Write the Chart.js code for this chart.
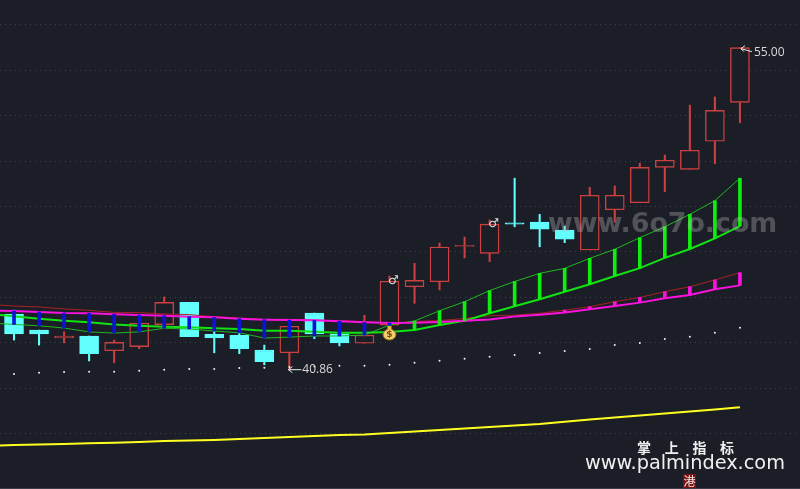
<!DOCTYPE html>
<html>
<head>
<meta charset="utf-8">
<style>
  html, body { margin: 0; padding: 0; background: #1b1e27; overflow: hidden; }
  canvas { display: block; }
</style>
<script src="https://cdn.jsdelivr.net/npm/chart.js@4/dist/chart.umd.min.js"></script>
</head>
<body>
<canvas id="kline" width="800" height="489"></canvas>
<script>
// Candles
const opens = [43.27, 42.56, 42.21, 42.30, 41.65, 41.83, 42.80, 43.78, 42.37, 42.33, 41.68, 41.56, 43.31, 42.39, 41.98, 42.78, 44.47, 44.69, 46.24, 45.94, 47.28, 47.32, 46.97, 46.09, 47.86, 48.17, 49.73, 49.64, 50.88, 52.59];
const closes = [42.39, 42.39, 42.30, 41.52, 42.02, 42.86, 43.78, 42.27, 42.21, 41.74, 41.17, 42.73, 42.39, 42.00, 42.34, 44.71, 44.75, 46.22, 46.29, 47.23, 47.23, 47.01, 46.57, 48.50, 48.50, 49.73, 50.04, 50.48, 52.24, 55.00];
const highs = [43.44, 42.56, 42.48, 42.30, 42.12, 42.86, 44.02, 43.78, 42.53, 42.43, 41.90, 42.73, 43.31, 42.39, 43.21, 44.94, 45.50, 46.40, 46.66, 47.41, 49.25, 47.66, 47.14, 48.85, 48.91, 49.91, 50.27, 52.47, 52.83, 55.00];
const lows = [42.12, 41.90, 42.00, 41.20, 41.12, 41.74, 42.62, 42.27, 41.56, 41.52, 41.03, 40.86, 42.18, 41.86, 41.98, 42.78, 43.74, 44.33, 45.74, 45.57, 47.11, 46.23, 46.41, 46.09, 47.32, 48.17, 48.66, 49.64, 49.89, 51.69];

// Indicator lines, first value is the day before the first candle
const thinRed = [43.69, 43.62, 43.58, 43.49, 43.43, 43.34, 43.33, 43.27, 43.24, 43.15, 43.09, 43.03, 43.03, 43.00, 42.97, 42.93, 42.87, 42.94, 42.98, 43.07, 43.19, 43.22, 43.30, 43.44, 43.59, 43.81, 44.00, 44.25, 44.47, 44.77, 45.09];
const magenta = [43.42, 43.40, 43.36, 43.31, 43.30, 43.26, 43.22, 43.19, 43.15, 43.12, 43.06, 43.02, 43.00, 42.99, 42.95, 42.90, 42.87, 42.88, 42.92, 42.97, 43.03, 43.16, 43.24, 43.33, 43.48, 43.62, 43.77, 43.96, 44.11, 44.36, 44.53];
const thickGreen = [43.26, 43.17, 43.06, 42.97, 42.90, 42.81, 42.75, 42.71, 42.68, 42.64, 42.61, 42.53, 42.53, 42.49, 42.44, 42.44, 42.48, 42.56, 42.78, 42.97, 43.30, 43.61, 43.92, 44.25, 44.58, 44.94, 45.29, 45.74, 46.13, 46.60, 47.14];
const thinGreen = [42.87, 42.81, 42.75, 42.65, 42.48, 42.43, 42.48, 42.64, 42.61, 42.52, 42.44, 42.21, 42.25, 42.30, 42.30, 42.34, 42.78, 42.96, 43.41, 43.81, 44.30, 44.70, 45.06, 45.28, 45.72, 46.12, 46.63, 47.11, 47.66, 48.26, 49.25];
const yellow = [37.45, 37.50, 37.52, 37.54, 37.57, 37.60, 37.63, 37.67, 37.70, 37.72, 37.76, 37.81, 37.85, 37.89, 37.94, 37.96, 38.03, 38.09, 38.16, 38.22, 38.29, 38.36, 38.42, 38.52, 38.62, 38.71, 38.80, 38.89, 38.97, 39.06, 39.16];
const dots = [40.63, 40.68, 40.71, 40.73, 40.73, 40.77, 40.81, 40.85, 40.85, 40.89, 40.90, 40.93, 40.96, 40.99, 40.99, 41.03, 41.12, 41.21, 41.30, 41.39, 41.46, 41.55, 41.64, 41.73, 41.90, 41.99, 42.17, 42.27, 42.44, 42.66];

// Grid prices
const gridPrices = [56, 54, 52, 50, 48, 46, 44, 42, 40, 38];

const BG = '#1b1e27';
const RED = '#cc4040';
const CYAN = '#62ffff';

// Turn the arrays into {x, y} points
const candlePoints = (a, b) => opens.map((_, i) => ({ x: i, y: [a[i], b[i]] }));
const linePoints = arr => arr.map((v, i) => ({ x: i - 1, y: v }));
const isUp = i => closes[i] >= opens[i];

// Indicator bars between two lines, from candle "from" up to candle "to"
function spanBars(a, b, from, to) {
  const out = [];
  for (let i = from; i <= to; i++) out.push({ x: i, y: [a[i + 1], b[i + 1]] });
  return out;
}

function barSet(data, color, width, order) {
  return { type: 'bar', data, backgroundColor: color, barThickness: width, grouped: false, order };
}

function lineSet(arr, color, width, order) {
  return { type: 'line', data: linePoints(arr), borderColor: color, borderWidth: width, pointRadius: 0, tension: 0, order };
}

// Texts and marks that sit on the chart
const overlay = {
  id: 'overlay',
  afterDatasetsDraw(chart) {
    const { ctx, scales } = chart;
    const px = scales.x.getPixelForValue.bind(scales.x);
    const py = scales.y.getPixelForValue.bind(scales.y);
    ctx.save();

    // max / min price labels
    ctx.textBaseline = 'middle';
    ctx.textAlign = 'left';
    ctx.font = '12px "Open Sans"';
    ctx.fillStyle = '#d8d8d8';
    ctx.fillText('55.00', px(29) + 14, py(55.00) + 5);
    ctx.fillText('40.86', px(11) + 13, py(40.86) + 1);

    ctx.strokeStyle = '#e8e8e8';
    ctx.lineWidth = 1;
    ctx.beginPath();
    // arrow to the high
    ctx.moveTo(px(29) + 12, py(55.00) + 4);
    ctx.lineTo(px(29) + 1, py(55.00) + 1);
    ctx.moveTo(px(29) + 5, py(55.00) - 2);
    ctx.lineTo(px(29) + 1, py(55.00) + 1);
    ctx.lineTo(px(29) + 4, py(55.00) + 4);
    // arrow to the low
    ctx.moveTo(px(11) + 12, py(40.86) + 1);
    ctx.lineTo(px(11) - 1, py(40.86) + 1);
    ctx.moveTo(px(11) + 3, py(40.86) - 2);
    ctx.lineTo(px(11) - 1, py(40.86) + 1);
    ctx.lineTo(px(11) + 3, py(40.86) + 4);
    ctx.stroke();

    // signal marks
    ctx.textAlign = 'center';
    ctx.font = '12px "DejaVu Sans"';
    ctx.fillStyle = '#dcdcdc';
    ctx.fillText('♂', px(15) + 4, py(44.71));
    ctx.fillText('♂', px(19) + 4, py(47.23));

    // money bag
    const bx = px(15), by = py(42.43);
    ctx.fillStyle = '#f2cf6a';
    ctx.strokeStyle = '#8a6a1c';
    ctx.beginPath();
    ctx.ellipse(bx, by + 1.5, 6.5, 5.5, 0, 0, Math.PI * 2);
    ctx.fill();
    ctx.stroke();
    ctx.fillStyle = '#e8b93e';
    ctx.fillRect(bx - 2, by - 7, 4, 4);
    ctx.fillStyle = '#7a4b10';
    ctx.font = 'bold 9px "DejaVu Sans"';
    ctx.fillText('$', bx, by + 2);

    // watermark
    ctx.textAlign = 'left';
    ctx.font = 'bold 26.8px "DejaVu Sans"';
    ctx.fillStyle = 'rgba(190,190,190,0.33)';
    ctx.fillText('www.6o7o.com', 548, 225);

    // footer
    ctx.fillStyle = '#f0f0f0';
    ctx.font = 'bold 14px "Noto Sans CJK SC"';
    ['掌', '上', '指', '标'].forEach((c, i) => ctx.fillText(c, 637 + i * 27.7, 448));
    ctx.font = '19.3px "DejaVu Sans"';
    ctx.fillText('www.palmindex.com', 585, 464);

    ctx.fillStyle = '#7a1010';
    ctx.fillRect(683, 474, 13, 14);
    ctx.fillStyle = '#f0e8e8';
    ctx.font = '12px "Noto Sans CJK TC"';
    ctx.textAlign = 'center';
    ctx.fillText('港', 689.5, 481);

    ctx.fillStyle = '#3b3e46';
    ctx.fillRect(0, 488, 800, 1);
    ctx.restore();
  }
};

new Chart(document.getElementById('kline'), {
  data: {
    datasets: [
      barSet(candlePoints(lows, highs), opens.map((_, i) => isUp(i) ? RED : CYAN), 1.4, 10),
      {
        type: 'bar',
        data: candlePoints(opens, closes),
        backgroundColor: opens.map((_, i) => isUp(i) ? BG : CYAN),
        borderColor: opens.map((_, i) => isUp(i) ? RED : CYAN),
        borderWidth: 1.4,
        borderSkipped: false,
        barThickness: 19,
        grouped: false,
        order: 9
      },
      lineSet(thinRed, '#a82222', 1, 6),
      lineSet(thinGreen, '#1fb81f', 1, 5),
      lineSet(thickGreen, '#12e212', 2, 4),
      lineSet(magenta, '#fb12dc', 2, 3),
      barSet(spanBars(magenta, thinGreen, 0, 15), '#0a14d6', 3, 2),
      barSet(spanBars(thickGreen, thinGreen, 16, 29), '#10ee10', 3, 2),
      barSet(spanBars(magenta, thinRed, 22, 29), '#fb12dc', 3, 2),
      lineSet(yellow, '#ffff22', 2, 3),
      {
        type: 'line',
        data: dots.map((v, i) => ({ x: i, y: v })),
        showLine: false,
        pointRadius: 1,
        pointBackgroundColor: '#f0f0f0',
        pointBorderWidth: 0,
        order: 8
      }
    ]
  },
  options: {
    responsive: false,
    animation: false,
    parsing: { xAxisKey: 'x', yAxisKey: 'y' },
    layout: { padding: 0, autoPadding: false },
    plugins: { legend: { display: false }, tooltip: { enabled: false } },
    scales: {
      x: { type: 'linear', min: -0.56, max: 31.4, offset: false, display: false },
      y: {
        type: 'linear',
        min: 35.56,
        max: 57.10,
        afterBuildTicks: axis => { axis.ticks = gridPrices.map(value => ({ value })); },
        afterFit: axis => { axis.width = 0; },
        ticks: { display: false },
        border: { display: false, dash: [1, 4] },
        grid: { color: '#41444d', lineWidth: 1, drawTicks: false }
      }
    }
  },
  plugins: [overlay]
});
</script>
</body>
</html>
